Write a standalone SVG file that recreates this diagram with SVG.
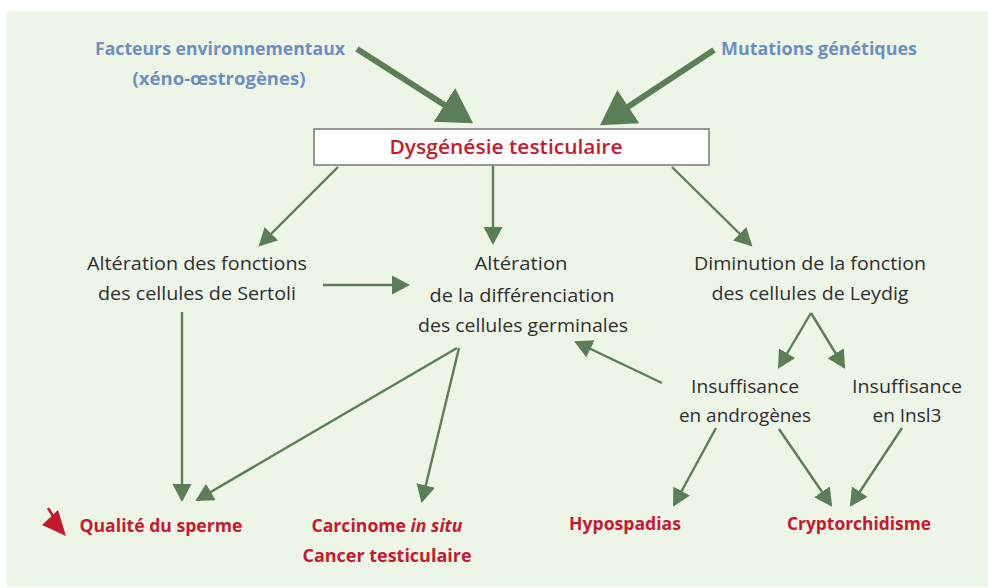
<svg xmlns="http://www.w3.org/2000/svg" width="988" height="588" viewBox="0 0 988 588">
<defs>
<style>
.bg{fill:#edf5e7}
.t{font-family:"Open Sans","Liberation Sans",sans-serif;font-size:18px;fill:#2f2f2f;text-anchor:middle}
.b{font-family:"Open Sans","Liberation Sans",sans-serif;font-size:17px;font-weight:700;fill:#6d8fbf;text-anchor:middle}
.r{font-family:"Open Sans","Liberation Sans",sans-serif;font-size:17px;font-weight:700;fill:#c41a30;text-anchor:middle}
.title{font-family:"Open Sans","Liberation Sans",sans-serif;font-size:20px;font-weight:600;fill:#c41a30;text-anchor:middle}
.thin{stroke:#5b7d57;stroke-width:2.4;fill:none;marker-end:url(#ah)}
.thick{stroke:#5b7d57;stroke-width:6;fill:none;marker-end:url(#ahb)}
</style>
<marker id="ah" markerUnits="userSpaceOnUse" markerWidth="20" markerHeight="20" refX="16" refY="9.5" orient="auto">
<path d="M0,0 L18,9.5 L0,19 z" fill="#5b7d57"/>
</marker>
<marker id="ahb" markerUnits="userSpaceOnUse" markerWidth="36" markerHeight="42" refX="28" refY="20" orient="auto">
<path d="M0,0 L34,20 L0,40 z" fill="#5b7d57"/>
</marker>
</defs>
<rect x="0" y="0" width="988" height="588" fill="#ffffff"/>
<rect class="bg" x="7" y="11" width="981" height="576"/>

<g id="connectors">
<line class="thick" x1="357" y1="49" x2="468" y2="120"/>
<line class="thick" x1="714" y1="50" x2="605" y2="122"/>
<line class="thin" x1="338" y1="167" x2="260" y2="245"/>
<line class="thin" x1="493" y1="166" x2="493" y2="243"/>
<line class="thin" x1="672" y1="167" x2="751" y2="245"/>
<line class="thin" x1="323" y1="285" x2="408" y2="285"/>
<line class="thin" x1="182" y1="312" x2="182" y2="500"/>
<line class="thin" x1="457" y1="348" x2="197" y2="500"/>
<line class="thin" x1="459" y1="348" x2="422" y2="501"/>
<line class="thin" x1="811" y1="313" x2="779" y2="367"/>
<line class="thin" x1="811" y1="313" x2="844" y2="367"/>
<line class="thin" x1="662" y1="383" x2="576" y2="342"/>
<line class="thin" x1="716" y1="428" x2="674" y2="505"/>
<line class="thin" x1="779" y1="429" x2="831" y2="505"/>
<line class="thin" x1="902" y1="428" x2="851" y2="505"/>
</g>

<g id="env">
<text class="b" x="220" y="55" textLength="250" lengthAdjust="spacingAndGlyphs">Facteurs environnementaux</text>
<text class="b" x="219" y="85" textLength="173" lengthAdjust="spacingAndGlyphs">(xéno-œstrogènes)</text>
</g>
<g id="mut">
<text class="b" x="819" y="55" textLength="196" lengthAdjust="spacingAndGlyphs">Mutations génétiques</text>
</g>
<g id="dysgenesie">
<rect x="314" y="129" width="395" height="36" fill="#ffffff" stroke="#777" stroke-width="1.5"/>
<text class="title" x="506" y="154" textLength="233" lengthAdjust="spacingAndGlyphs">Dysgénésie testiculaire</text>
</g>
<g id="sertoli">
<text class="t" x="197" y="270" textLength="220" lengthAdjust="spacingAndGlyphs">Altération des fonctions</text>
<text class="t" x="197" y="300" textLength="198" lengthAdjust="spacingAndGlyphs">des cellules de Sertoli</text>
</g>
<g id="germinales">
<text class="t" x="521" y="270" textLength="93" lengthAdjust="spacingAndGlyphs">Altération</text>
<text class="t" x="522" y="302" textLength="185" lengthAdjust="spacingAndGlyphs">de la différenciation</text>
<text class="t" x="523" y="332" textLength="210" lengthAdjust="spacingAndGlyphs">des cellules germinales</text>
</g>
<g id="leydig">
<text class="t" x="810" y="270" textLength="232" lengthAdjust="spacingAndGlyphs">Diminution de la fonction</text>
<text class="t" x="810" y="300" textLength="197" lengthAdjust="spacingAndGlyphs">des cellules de Leydig</text>
</g>
<g id="androgenes">
<text class="t" x="745" y="393" textLength="108" lengthAdjust="spacingAndGlyphs">Insuffisance</text>
<text class="t" x="745" y="422" textLength="132" lengthAdjust="spacingAndGlyphs">en androgènes</text>
</g>
<g id="insl3">
<text class="t" x="907" y="393" textLength="110" lengthAdjust="spacingAndGlyphs">Insuffisance</text>
<text class="t" x="907" y="422" textLength="69" lengthAdjust="spacingAndGlyphs">en Insl3</text>
</g>
<g id="sperme">
<line x1="48" y1="508" x2="53" y2="516" stroke="#c41a30" stroke-width="2.5"/>
<polygon points="42,525 58,510 66,536" fill="#c41a30"/>
<text class="r" x="161" y="532" textLength="163" lengthAdjust="spacingAndGlyphs">Qualité du sperme</text>
</g>
<g id="cancer">
<text class="r" x="387" y="532" textLength="151" lengthAdjust="spacingAndGlyphs">Carcinome <tspan font-style="italic">in situ</tspan></text>
<text class="r" x="387" y="562" textLength="169" lengthAdjust="spacingAndGlyphs">Cancer testiculaire</text>
</g>
<g id="hypospadias">
<text class="r" x="625" y="530" textLength="112" lengthAdjust="spacingAndGlyphs">Hypospadias</text>
</g>
<g id="cryptorchidisme">
<text class="r" x="859" y="530" textLength="144" lengthAdjust="spacingAndGlyphs">Cryptorchidisme</text>
</g>
</svg>
